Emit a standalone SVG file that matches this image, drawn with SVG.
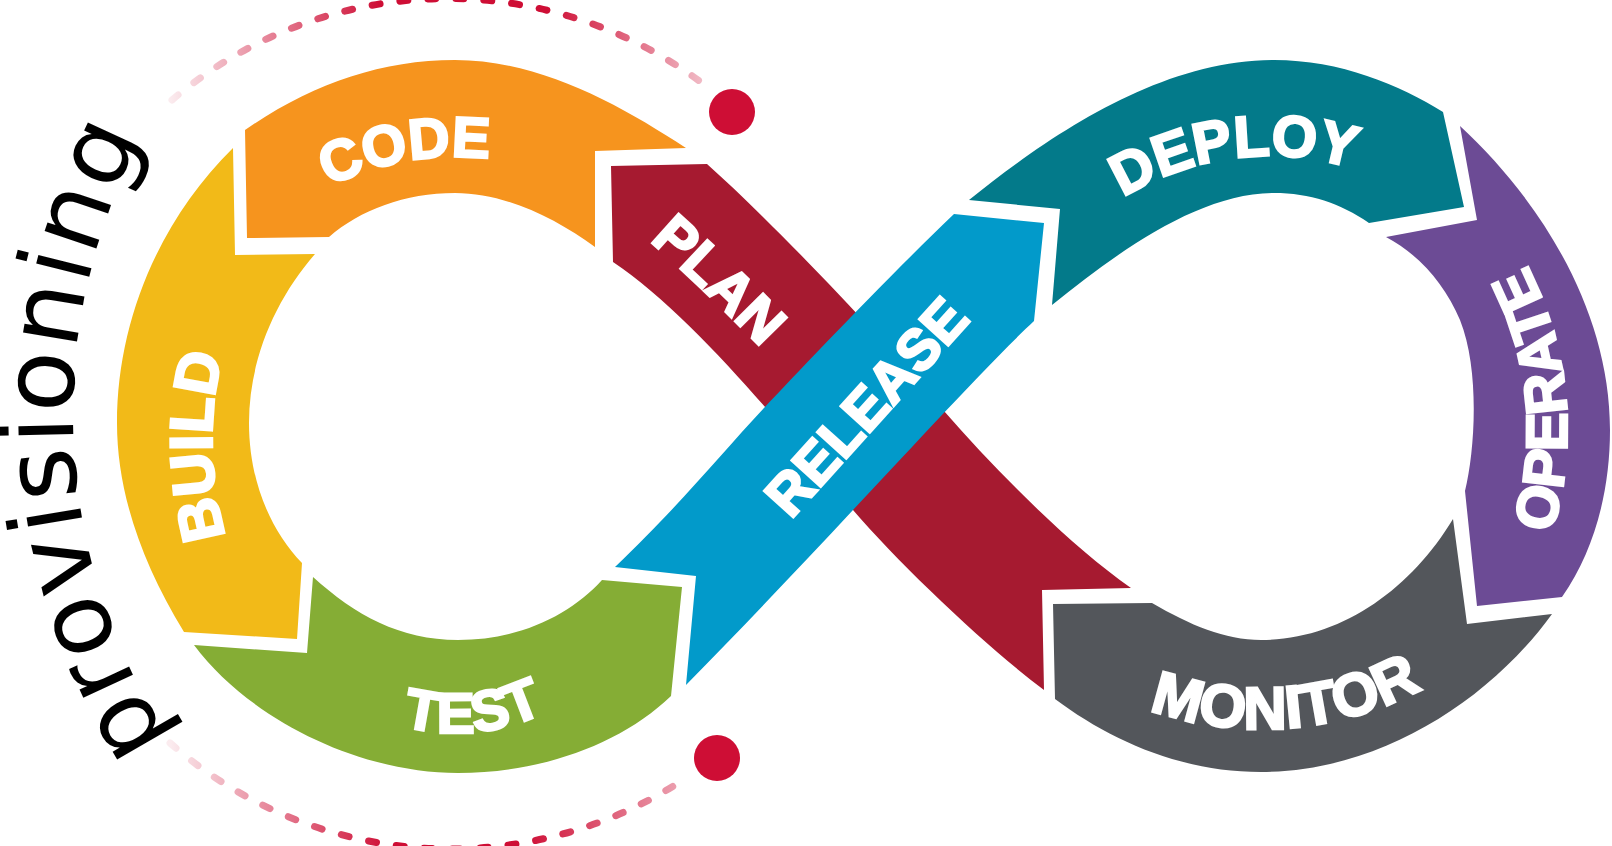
<svg xmlns="http://www.w3.org/2000/svg" width="1612" height="846" viewBox="0 0 1612 846">
<style>
.lbl{fill:#fff;stroke:#fff;stroke-width:2.6;stroke-linejoin:miter;font-family:"Liberation Sans",Arial,sans-serif;font-weight:700;}
.prov{fill:#000;font-family:"DejaVu Sans","Liberation Sans",sans-serif;font-size:100px;letter-spacing:2px;}
.dash{fill:none;stroke-width:7;stroke-linecap:round;stroke-dasharray:8 20;}
.dot{fill:#CE0E35;}
</style>
<defs>
<linearGradient id="gTop" gradientUnits="userSpaceOnUse" x1="170" y1="0" x2="710" y2="0">
<stop offset="0" stop-color="#CE0E35" stop-opacity="0.08"/>
<stop offset="0.39" stop-color="#CE0E35" stop-opacity="1"/>
<stop offset="0.7" stop-color="#CE0E35" stop-opacity="1"/>
<stop offset="1" stop-color="#CE0E35" stop-opacity="0.25"/>
</linearGradient>
<linearGradient id="gBot" gradientUnits="userSpaceOnUse" x1="170" y1="0" x2="690" y2="0">
<stop offset="0" stop-color="#CE0E35" stop-opacity="0.08"/>
<stop offset="0.42" stop-color="#CE0E35" stop-opacity="1"/>
<stop offset="0.68" stop-color="#CE0E35" stop-opacity="1"/>
<stop offset="1" stop-color="#CE0E35" stop-opacity="0.35"/>
</linearGradient>
<path id="pCode" d="M236,259 A288,288 0 0 1 601,196"/>
<path id="pPlan" d="M598,197 Q700,280 808,397"/>
<path id="pRelease" d="M770,543 L992,297"/>
<path id="pDeploy" d="M1064.6,245.4 A280.6,280.6 0 0 1 1421.7,200.2"/>
<path id="pOperate" d="M1503.5,633.2 A357,357 0 0 0 1461,176.2"/>
<path id="pMonitor" d="M1041.4,647.4 A339,339 0 0 0 1519.4,610.6"/>
<path id="pTest" d="M311.3,674.2 A205,205 0 0 0 624,644.1"/>
<path id="pBuild" d="M297.4,668.3 A348,348 0 0 1 289.6,221"/>
<path id="pProv" d="M228.8,815.3 A592,592 0 0 1 195,55"/>
</defs>

<g id="connectors">
<path class="dash" stroke="url(#gTop)" d="M172,100 A425,425 0 0 1 706,86"/>
<path class="dash" stroke="url(#gBot)" d="M170,743 A425,425 0 0 0 686,778"/>
</g>

<g id="dot-top"><circle class="dot" cx="732" cy="112" r="23"/></g>
<g id="dot-bottom"><circle class="dot" cx="717" cy="758" r="23"/></g>

<g id="plan">
<path fill="#A61A30" d="M611,166 L707,164 C770,220 880,335 944,411 C1000,475 1070,545 1131,588 L1042,590 L1044,690 C990,650 900,565 853,510 C800,450 700,320 613,262 Z"/>
<text class="lbl" font-size="57"><textPath href="#pPlan" startOffset="50%" text-anchor="middle">PLAN</textPath></text>
</g>

<g id="code">
<path fill="#F6941E" d="M245,130 C310,85 380,60 455,60 C540,60 620,105 686,148 L595,151 L595,247 C555,218 505,193 455,193 C405,193 360,210 329,237 L247,238 Z"/>
<text class="lbl" font-size="57"><textPath href="#pCode" startOffset="50%" text-anchor="middle">CODE</textPath></text>
</g>

<g id="build">
<path fill="#F2BA18" d="M233,148 L235,255 L315,254 C275,300 249,360 249,423 C249,480 270,530 302,563 L297,639 L184,632 C140,560 117,490 117,423 C117,320 160,220 233,148 Z"/>
<text class="lbl" font-size="60"><textPath href="#pBuild" startOffset="50%" text-anchor="middle">BUILD</textPath></text>
</g>

<g id="test">
<path fill="#85AD35" d="M194,645 L307,653 L313,577 C355,615 400,640 458,640 C520,640 570,615 602,580 L682,587 L671,696 C620,745 540,773 458,773 C360,773 250,720 194,645 Z"/>
<text class="lbl" font-size="57"><textPath href="#pTest" startOffset="50%" text-anchor="middle">TEST</textPath></text>
</g>

<g id="release">
<path fill="#029ACA" d="M615,567 C680,505 720,455 764,408 C800,370 880,285 954,214 L1044,223 L1034,321 C990,362 900,460 853,510 C800,567 740,630 686,685 L696,576 Z"/>
<text class="lbl" font-size="57"><textPath href="#pRelease" startOffset="50%" text-anchor="middle">RELEASE</textPath></text>
</g>

<g id="deploy">
<path fill="#037A8A" d="M969,200 C1050,135 1160,60 1274,60 C1340,60 1400,85 1443,112 L1464,207 L1369,223 C1340,203 1310,193 1274,193 C1200,193 1120,250 1052,305 L1060,209 Z"/>
<text class="lbl" font-size="58"><textPath href="#pDeploy" startOffset="50%" text-anchor="middle">DEPLOY</textPath></text>
</g>

<g id="operate">
<path fill="#6C4B95" d="M1460,126 C1540,200 1610,310 1610,430 C1610,490 1595,550 1562,597 L1477,606 L1465,491 C1475,450 1480,370 1460,320 C1445,285 1420,255 1386,237 L1477,220 Z"/>
<text class="lbl" font-size="58"><textPath href="#pOperate" startOffset="50%" text-anchor="middle">OPERATE</textPath></text>
</g>

<g id="monitor">
<path fill="#53565B" d="M1053,604 L1152,603 C1190,625 1225,640 1261,640 C1340,640 1410,590 1453,519 L1467,624 L1552,614 C1490,700 1380,772 1261,772 C1180,772 1110,740 1055,699 Z"/>
<text class="lbl" font-size="60"><textPath href="#pMonitor" startOffset="50%" text-anchor="middle">MONITOR</textPath></text>
</g>

<g id="provisioning">
<text class="prov"><textPath href="#pProv" startOffset="50%" text-anchor="middle">provisioning</textPath></text>
</g>
</svg>
